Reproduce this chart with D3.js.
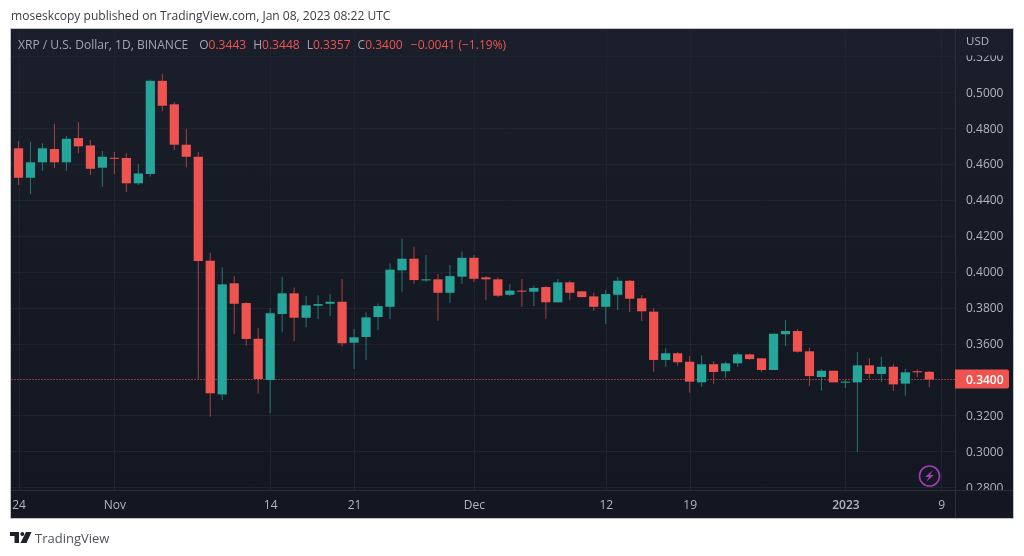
<!DOCTYPE html>
<html><head><meta charset="utf-8">
<script src="https://cdn.jsdelivr.net/npm/d3@7/dist/d3.min.js"></script>
<style>html,body{margin:0;padding:0;background:#fff;overflow:hidden}svg{display:block;filter:blur(0.35px)}</style>
</head><body><svg id="c" width="1024" height="556"></svg>
<script>
const startDay = "2022-10-24", endDay = "2023-01-09";
const opens = [.4688,.4524,.4610,.4684,.4610,.4745,.4704,.4580,.4635,.4634,.4493,.4545,.5064,.4933,.4708,.4641,.4062,.3317,.3936,.3826,.3627,.3397,.3765,.3880,.3744,.3811,.3822,.3833,.3605,.3637,.3748,.3805,.4008,.4073,.3952,.3958,.3883,.3973,.4078,.3969,.3958,.3872,.3895,.3889,.3915,.3830,.3941,.3891,.3863,.3805,.3872,.3950,.3852,.3778,.3509,.3546,.3499,.3384,.3485,.3446,.3490,.3540,.3518,.3453,.3652,.3670,.3557,.3414,.3449,.3384,.3384,.3479,.3431,.3471,.3377,.3446,.3443];
const highs = [.4729,.4723,.4717,.4823,.4756,.4834,.4734,.4673,.4667,.4660,.4599,.5072,.5100,.4944,.4795,.4667,.4106,.4025,.3976,.3832,.3687,.3797,.3973,.3913,.3865,.3869,.3876,.3960,.3681,.3774,.3824,.4047,.4186,.4140,.4093,.3988,.4038,.4112,.4093,.3976,.3969,.3930,.3960,.3922,.3922,.3960,.3950,.3891,.3883,.3898,.3971,.3954,.3871,.3797,.3574,.3553,.3531,.3535,.3503,.3499,.3551,.3544,.3518,.3655,.3731,.3681,.3577,.3457,.3449,.3397,.3553,.3518,.3525,.3485,.3460,.3457,.3448];
const lows = [.4483,.4433,.4563,.4578,.4563,.4660,.4539,.4474,.4545,.4444,.4483,.4530,.4894,.4678,.4582,.3403,.3193,.3286,.3653,.3588,.3321,.3212,.3663,.3613,.3691,.3737,.3754,.3583,.3458,.3509,.3676,.3737,.3889,.3934,.3943,.3727,.3828,.3932,.3943,.3841,.3858,.3865,.3805,.3809,.3739,.3830,.3841,.3858,.3781,.3709,.3787,.3776,.3726,.3443,.3471,.3477,.3326,.3360,.3377,.3410,.3470,.3509,.3442,.3453,.3587,.3549,.3364,.3338,.3384,.3353,.2997,.3407,.3386,.3336,.3310,.3414,.3357];
const closes = [.4524,.4610,.4688,.4610,.4741,.4699,.4574,.4641,.4630,.4493,.4548,.5064,.4925,.4708,.4641,.4060,.3323,.3930,.3822,.3626,.3403,.3769,.3880,.3744,.3813,.3820,.3833,.3602,.3635,.3746,.3809,.4012,.4073,.3954,.3958,.3883,.3976,.4078,.3961,.3958,.3867,.3895,.3889,.3910,.3830,.3941,.3883,.3859,.3805,.3876,.3950,.3850,.3780,.3509,.3546,.3496,.3388,.3485,.3442,.3490,.3540,.3514,.3453,.3655,.3670,.3555,.3419,.3449,.3384,.3388,.3479,.3431,.3471,.3373,.3440,.3440,.3400];
const priceTicks = [.28,.30,.32,.34,.36,.38,.40,.42,.44,.46,.48,.50,.52];
const timeTicks = [["2022-10-24","24"],["2022-11-01","Nov"],["2022-11-14","14"],["2022-11-21","21"],["2022-12-01","Dec"],["2022-12-12","12"],["2022-12-19","19"],["2023-01-01","2023"],["2023-01-09","9"]];
const lastPrice = 0.34;
const titleText = "moseskcopy published on TradingView.com, Jan 08, 2023 08:22 UTC";
const legendName = "XRP / U.S. Dollar, 1D, BINANCE";
const legendVals = [["O","0.3443"],["H","0.3448"],["L","0.3357"],["C","0.3400"]];
const legendChange = "−0.0041 (−1.19%)";

const UP="#26a69a", DOWN="#ef5350", FONT="'Open Sans','Noto Sans',sans-serif";
const P={l:11,t:29,r:955,b:490,R:1013,B:518};
const parse=d3.utcParse("%Y-%m-%d");
const x=d3.scaleUtc().domain([parse("2022-10-24"),parse("2023-01-09")]).range([18.5,941.3]);
const y=d3.scaleLinear().domain([.30,.50]).range([451.3,92.3]);
const days=d3.utcDay.range(parse(startDay),parse(endDay));
const candles=days.map((d,i)=>({d,o:opens[i],h:highs[i],l:lows[i],c:closes[i]}));
const svg=d3.select("#c");

const defs=svg.append("defs");
const g=defs.append("linearGradient").attr("id","bg").attr("x1",0).attr("y1",0).attr("x2",0).attr("y2",1);
g.append("stop").attr("offset",0).attr("stop-color","#1b1f2b");
g.append("stop").attr("offset",.55).attr("stop-color","#151923");
g.append("stop").attr("offset",1).attr("stop-color","#131722");
defs.append("clipPath").attr("id","pane").append("rect").attr("x",P.l).attr("y",P.t).attr("width",P.r-P.l).attr("height",P.b-P.t);
defs.append("clipPath").attr("id","yax").append("rect").attr("x",P.r).attr("y",55.5).attr("width",P.R-P.r).attr("height",P.b-55.5);

svg.append("rect").attr("x",P.l-.5).attr("y",28.5).attr("width",P.R-P.l+1).attr("height",P.B-28).attr("fill","url(#bg)").attr("stroke","#bfc2c8");

svg.append("text").attr("x",11).attr("y",20).attr("font-family",FONT).attr("font-size",12.05).attr("fill","#3a3d45").text(titleText);

// grid
const grid=svg.append("g").attr("clip-path","url(#pane)");
grid.selectAll(".h").data(priceTicks.filter(p=>p!==lastPrice)).join("line").attr("x1",P.l).attr("x2",P.r).attr("y1",d=>Math.round(y(d))+.5).attr("y2",d=>Math.round(y(d))+.5).attr("stroke","#20242f");
grid.selectAll(".v").data(timeTicks).join("line").attr("y1",P.t).attr("y2",P.b).attr("x1",d=>Math.round(x(parse(d[0])))+.5).attr("x2",d=>Math.round(x(parse(d[0])))+.5).attr("stroke","#20242f");

// pane separators
svg.append("line").attr("x1",P.r+.5).attr("x2",P.r+.5).attr("y1",P.t).attr("y2",P.B).attr("stroke","#2a2e39");
svg.append("line").attr("x1",P.l).attr("x2",P.R).attr("y1",P.b+.5).attr("y2",P.b+.5).attr("stroke","#2a2e39");

// price line
svg.append("line").attr("x1",P.l).attr("x2",P.r).attr("y1",Math.round(y(lastPrice))+.5).attr("y2",Math.round(y(lastPrice))+.5).attr("stroke",DOWN).attr("stroke-opacity",.55).attr("stroke-dasharray","2 1");

// candles
const cg=svg.append("g").attr("clip-path","url(#pane)");
cg.selectAll(".w").data(candles).join("line")
 .attr("x1",d=>x(d.d)).attr("x2",d=>x(d.d)).attr("y1",d=>y(d.h)).attr("y2",d=>y(d.l))
 .attr("stroke",d=>d.c>=d.o?UP:DOWN).attr("stroke-opacity",.62).attr("stroke-width",1.1);
cg.selectAll(".b").data(candles).join("rect")
 .attr("x",d=>x(d.d)-4.6).attr("width",9.2)
 .attr("y",d=>y(Math.max(d.o,d.c))).attr("height",d=>Math.max(1,Math.abs(y(d.o)-y(d.c))))
 .attr("fill",d=>d.c>=d.o?UP:DOWN);

// legend
const lg=svg.append("text").attr("x",18).attr("y",49).attr("font-family",FONT).attr("font-size",12.05);
lg.append("tspan").attr("fill","#a3a6af").text(legendName);
legendVals.forEach(([k,v],i)=>{
  lg.append("tspan").attr("dx",i?7:11).attr("fill","#a3a6af").text(k);
  lg.append("tspan").attr("fill",DOWN).text(v);
});
lg.append("tspan").attr("dx",8).attr("fill",DOWN).text(legendChange);

// axes
const yAxis=d3.axisRight(y).tickValues(priceTicks).tickFormat(d3.format(".4f")).tickSize(0).tickPadding(11);
const yInner=svg.append("g").attr("clip-path","url(#yax)");
yInner.append("g").attr("transform",`translate(${P.r},0)`).call(yAxis).call(s=>s.select(".domain").remove())
 .selectAll("text").attr("font-family",FONT).attr("font-size",12).attr("fill","#b2b5be");
svg.append("text").attr("x",966).attr("y",45).attr("font-family",FONT).attr("font-size",11.5).attr("fill","#b2b5be").text("USD");

const xAxis=d3.axisBottom(x).tickValues(timeTicks.map(d=>parse(d[0]))).tickFormat((d,i)=>timeTicks[i][1]).tickSize(0).tickPadding(10);
svg.append("g").attr("transform",`translate(0,${P.b})`).call(xAxis).call(s=>s.select(".domain").remove())
 .selectAll("text").attr("font-family",FONT).attr("font-size",12).attr("fill","#b2b5be")
 .attr("font-weight",(d,i)=>timeTicks[i][1]==="2023"?600:400);

// last price tag
const ty=Math.round(y(lastPrice));
svg.append("path").attr("d",`M${P.r},${ty-9.5}H1007a2,2 0 0 1 2,2V${ty+7.5}a2,2 0 0 1 -2,2H${P.r}Z`).attr("fill",DOWN);
svg.append("text").attr("x",966).attr("y",ty+4.5).attr("font-family",FONT).attr("font-size",12).attr("font-weight",600).attr("fill","#fff").text(d3.format(".4f")(lastPrice));

// lightning icon
const ic=svg.append("g").attr("transform","translate(929.5,476)");
ic.append("circle").attr("r",10).attr("fill","none").attr("stroke","#a43cb4").attr("stroke-width",1.6);
ic.append("path").attr("d","M3.5,-6L-4.5,1H-0.5L-3.5,6L4.5,-1H0.5Z").attr("fill","#a43cb4");

// logo
const lo=svg.append("g").attr("transform","translate(10,532)").attr("fill","#1e222d");
lo.append("path").attr("d","M0,0H9V11H4.5V4H0Z");
lo.append("circle").attr("cx",12.3).attr("cy",2).attr("r",2);
lo.append("path").attr("d","M16,0H21.5L16.5,11H10.5Z");
svg.append("text").attr("x",35).attr("y",543).attr("font-family",FONT).attr("font-size",13).attr("fill","#50535e").text("TradingView");
</script></body></html>
